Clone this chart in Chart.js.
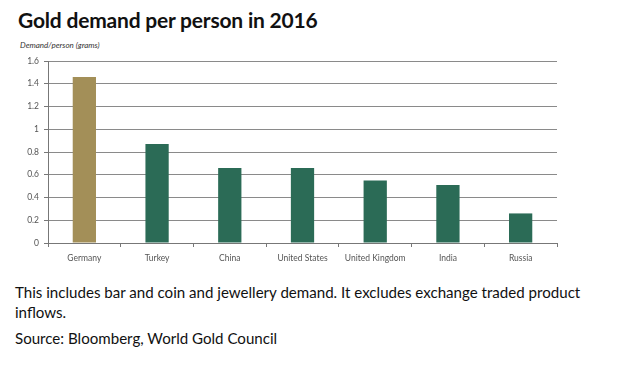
<!DOCTYPE html>
<html><head><meta charset="utf-8">
<script src="https://cdn.jsdelivr.net/npm/chart.js@4/dist/chart.umd.min.js"></script>
<style>
html,body{margin:0;padding:0;background:#fff;width:620px;height:371px;overflow:hidden;font-family:Lato,"Open Sans",sans-serif;}
#title{position:absolute;left:18px;top:7px;font-size:21px;font-weight:bold;color:#111;white-space:nowrap;letter-spacing:-0.2px}
#sub{position:absolute;left:20px;top:40px;font-size:8px;font-style:italic;color:#333;white-space:nowrap}
#wrap{position:absolute;left:0;top:50px;width:600px;height:220px}
.foot{position:absolute;left:15px;font-size:15.1px;color:#111;white-space:nowrap}
</style></head>
<body>
<div id="title">Gold demand per person in 2016</div>
<div id="sub">Demand/person (grams)</div>
<div id="wrap"><canvas id="c" width="600" height="220"></canvas></div>
<div class="foot" style="top:283px">This includes bar and coin and jewellery demand. It excludes exchange traded product</div>
<div class="foot" style="top:303px">inflows.</div>
<div class="foot" style="top:329px">Source: Bloomberg, World Gold Council</div>
<script>
const categories = ["Germany","Turkey","China","United States","United Kingdom","India","Russia"];
const demandGrams = [1.46, 0.87, 0.66, 0.66, 0.55, 0.51, 0.26];
const yTicks = [0,0.2,0.4,0.6,0.8,1,1.2,1.4,1.6];
const barColors = categories.map((c,i)=> i===0 ? "#A38F58" : "#2B6B56");

new Chart(document.getElementById("c"), {
  type: "bar",
  data: { labels: categories, datasets: [{ data: demandGrams, backgroundColor: barColors, borderWidth: 0, barPercentage: 0.32, categoryPercentage: 1 }] },
  options: {
    responsive: false, animation: false,
    layout: { padding: { top: 11, right: 43, left: 0, bottom: 0 } },
    plugins: { legend: { display: false }, tooltip: { enabled: false } },
    scales: {
      x: {
        grid: { offset: true, drawOnChartArea: false, drawTicks: true, tickLength: 4, color: "#777" },
        border: { color: "#777", width: 1 },
        ticks: { font: { family: "Lato", size: 8.5 }, color: "#555", padding: 6, maxRotation: 0, autoSkip: false },
        afterFit: s => { s.height = 27; }
      },
      y: {
        min: 0, max: 1.6,
        afterBuildTicks: s => { s.ticks = yTicks.map(v => ({ value: v })); },
        grid: { color: "#8a8a8a", borderDash: [2, 2], drawTicks: true, tickLength: 4, tickBorderDash: [10, 0], tickColor: "#777" },
        border: { color: "#777", width: 1 },
        ticks: { font: { family: "Lato", size: 8.5 }, color: "#555", padding: 5, callback: v => String(Number(v.toFixed(1))) },
        afterFit: s => { s.width = 48; }
      }
    }
  }
});
</script>
</body></html>
